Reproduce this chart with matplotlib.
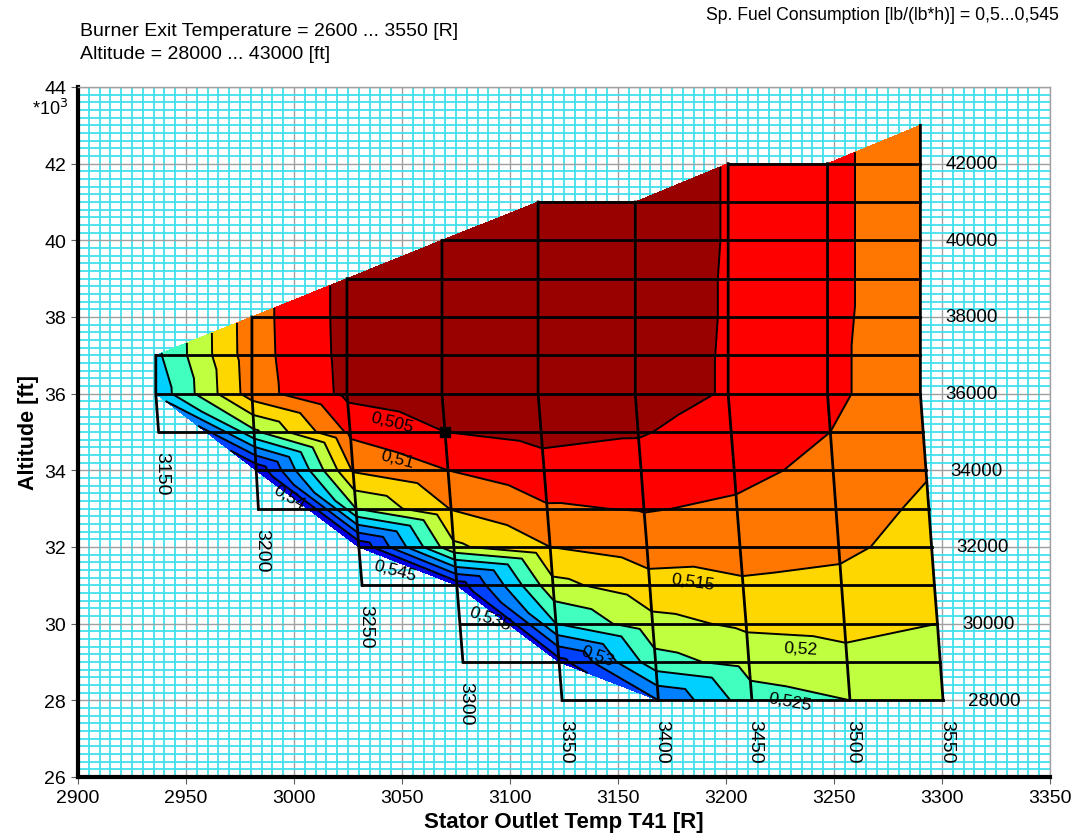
import numpy as np
import matplotlib
matplotlib.use('Agg')
import matplotlib.pyplot as plt
import matplotlib.tri as mtri
from matplotlib.ticker import MultipleLocator

plt.rcParams['font.family'] = ['Liberation Sans Narrow', 'Liberation Sans', 'DejaVu Sans']

nan = np.nan

# burner exit temperature lines [R] and altitudes [1000 ft]
t4_lines = [3150, 3200, 3250, 3300, 3350, 3400, 3450, 3500, 3550]
altitudes = list(range(28, 44))

# stator outlet temperature T41 [R] per line, altitude 28 ... 43
t41 = [
    [nan, nan, nan, nan, nan, nan, nan, 2937.3, 2936.0, 2936.0, nan, nan, nan, nan, nan, nan],
    [nan, nan, nan, nan, nan, 2983.5, 2982.5, 2981.5, 2980.5, 2980.5, 2980.5, nan, nan, nan, nan, nan],
    [nan, nan, nan, 3031.5, 3030.0, 3028.7, 3027.3, 3026.0, 3024.5, 3024.5, 3024.5, 3024.5, nan, nan, nan, nan],
    [nan, 3078.2, 3076.8, 3075.4, 3074.0, 3072.7, 3071.3, 3069.9, 3068.5, 3068.5, 3068.5, 3068.5, 3068.5, nan, nan, nan],
    [3124.1, 3122.7, 3121.3, 3119.9, 3118.6, 3117.2, 3115.8, 3114.4, 3113.0, 3113.0, 3113.0, 3113.0, 3113.0, 3113.0, nan, nan],
    [3168.7, 3167.4, 3166.0, 3164.7, 3163.4, 3162.0, 3160.7, 3159.3, 3158.0, 3158.0, 3158.0, 3158.0, 3158.0, 3158.0, nan, nan],
    [3212.0, 3210.6, 3209.3, 3207.9, 3206.5, 3205.1, 3203.8, 3202.4, 3201.0, 3201.0, 3201.0, 3201.0, 3201.0, 3201.0, 3201.0, nan],
    [3257.4, 3256.1, 3254.8, 3253.5, 3252.2, 3250.9, 3249.6, 3248.3, 3247.0, 3247.0, 3247.0, 3247.0, 3247.0, 3247.0, 3247.0, nan],
    [3300.5, 3299.2, 3297.9, 3296.5, 3295.2, 3293.9, 3292.6, 3291.3, 3290.0, 3290.0, 3290.0, 3290.0, 3290.0, 3290.0, 3290.0, 3290.0],
]

# specific fuel consumption [lb/(lb*h)] per line, altitude 28 ... 43
sfc = [
    [nan, nan, nan, nan, nan, nan, nan, nan, 0.5335, 0.5312, nan, nan, nan, nan, nan, nan],
    [nan, nan, nan, nan, nan, nan, 0.5490, 0.5260, 0.5125, 0.5121, 0.5120, nan, nan, nan, nan, nan],
    [nan, nan, nan, nan, 0.5490, 0.5250, 0.5145, 0.5090, 0.5038, 0.5036, 0.5035, 0.5035, nan, nan, nan, nan],
    [nan, nan, nan, 0.5480, 0.5210, 0.5148, 0.5100, 0.5050, 0.5015, 0.5012, 0.5011, 0.5010, 0.5010, nan, nan, nan],
    [nan, 0.5470, 0.5300, 0.5215, 0.5150, 0.5105, 0.5070, 0.5035, 0.5005, 0.5004, 0.5003, 0.5003, 0.5002, 0.5002, nan, nan],
    [0.5400, 0.5269, 0.5215, 0.5168, 0.5126, 0.5097, 0.5071, 0.5046, 0.5020, 0.5019, 0.5018, 0.5018, 0.5017, 0.5017, nan, nan],
    [0.5270, 0.5231, 0.5191, 0.5156, 0.5131, 0.5107, 0.5088, 0.5071, 0.5055, 0.5055, 0.5054, 0.5054, 0.5053, 0.5053, 0.5053, nan],
    [0.5250, 0.5215, 0.5185, 0.5165, 0.5138, 0.5125, 0.5112, 0.5100, 0.5093, 0.5093, 0.5092, 0.5092, 0.5092, 0.5092, 0.5092, nan],
    [0.5227, 0.5213, 0.5200, 0.5187, 0.5173, 0.5160, 0.5146, 0.5133, 0.5120, 0.5120, 0.5120, 0.5119, 0.5119, 0.5119, 0.5119, 0.5119],
]

sfc_levels = [0.505, 0.51, 0.515, 0.52, 0.525, 0.53, 0.535, 0.54, 0.545]
band_colors = ['#990000', '#FF0000', '#FF7700', '#FFD700', '#BFFF40',
               '#40FFBF', '#00D0FF', '#0080FF', '#0040FF', '#0000E0']
level_labels = ['0,505', '0,51', '0,515', '0,52', '0,525', '0,53', '0,535', '0,54', '0,545']
# label anchor (T41, altitude, rotation)
label_pos = [(3045.4, 35.25, -14), (3047.7, 34.31, -14), (3184.7, 31.1, -8), (3234.3, 29.36, -3),
             (3229.6, 27.97, -10), (3140.3, 29.17, -20), (3090.7, 30.14, -20), (2998.0, 33.3, -30),
             (3046.8, 31.39, -15)]

design_line, design_alt = 3300, 35

# ---- triangulate the valid sfc points, strip by strip between neighbouring lines
xs, ys, zs = [], [], []
cols = []
for i in range(len(t4_lines)):
    col = []
    for j, a in enumerate(altitudes):
        if not np.isnan(sfc[i][j]):
            col.append((len(xs), a))
            xs.append(t41[i][j]); ys.append(a); zs.append(sfc[i][j])
    cols.append(col)

triangles = []
for A, B in zip(cols[:-1], cols[1:]):
    a = b = 0
    while a < len(A) - 1 or b < len(B) - 1:
        if a == len(A) - 1:
            step_b = True
        elif b == len(B) - 1:
            step_b = False
        else:
            step_b = B[b + 1][1] <= A[a + 1][1]
        if step_b:
            triangles.append([A[a][0], B[b][0], B[b + 1][0]])
            b += 1
        else:
            triangles.append([A[a][0], A[a + 1][0], B[b][0]])
            a += 1

tri = mtri.Triangulation(np.array(xs), np.array(ys), np.array(triangles))
z = np.array(zs)

fig = plt.figure(figsize=(10.78, 8.37), dpi=100)
ax = fig.add_axes([0.0724, 0.0705, 0.9016, 0.8244])

ax.tricontourf(tri, z, levels=[0.48] + sfc_levels + [0.58], colors=band_colors, zorder=2)
ax.tricontour(tri, z, levels=sfc_levels, colors='k', linewidths=1.4, zorder=3)

# carpet grid
t41_arr = np.array(t41)
for i in range(len(t4_lines)):
    ok = ~np.isnan(t41_arr[i])
    ax.plot(t41_arr[i][ok], np.array(altitudes)[ok], color='k', lw=2, zorder=4)
for j, a in enumerate(altitudes):
    ok = ~np.isnan(t41_arr[:, j])
    if ok.sum() > 1:
        ax.plot(t41_arr[:, j][ok], [a] * ok.sum(), color='k', lw=2, zorder=4)

ax.plot(t41_arr[t4_lines.index(design_line), altitudes.index(design_alt)], design_alt,
        's', color='k', ms=7, zorder=5)

for txt, (lx, ly, rot) in zip(level_labels, label_pos):
    ax.text(lx, ly, txt, fontsize=12.5, rotation=rot, ha='center', va='center', zorder=6)

# line labels
for i, v in enumerate(t4_lines):
    ok = np.where(~np.isnan(t41_arr[i]))[0]
    j0 = ok[0]
    ax.text(t41_arr[i][j0] + 1.5, altitudes[j0] - 0.5, str(v), rotation=270, fontsize=14,
            ha='center', va='top', zorder=6)
for j, a in enumerate(altitudes):
    if a % 2 == 0 and a <= 42:
        ok = np.where(~np.isnan(t41_arr[:, j]))[0]
        ax.text(t41_arr[ok[-1], j] + 11.5, a, str(a * 1000), fontsize=13.5, ha='left', va='center', zorder=6)

ax.set_xlim(2900, 3350)
ax.set_ylim(26, 44)
ax.xaxis.set_major_locator(MultipleLocator(50))
ax.yaxis.set_major_locator(MultipleLocator(2))
ax.xaxis.set_minor_locator(MultipleLocator(5))
ax.yaxis.set_minor_locator(MultipleLocator(0.2))
ax.grid(which='minor', color='#40E0EE', lw=1.3, zorder=0)
ax.grid(which='major', color='#A0A0A0', lw=1.0, zorder=1)
ax.set_axisbelow(True)
ax.tick_params(which='minor', length=0)
ax.tick_params(which='major', direction='out', length=5, labelsize=14, color='#606060')
for s in ['left', 'bottom']:
    ax.spines[s].set_linewidth(3)
    ax.spines[s].set_color('k')
for s in ['top', 'right']:
    ax.spines[s].set_linewidth(1)
    ax.spines[s].set_color('#A0A0A0')

ax.set_xlabel('Stator Outlet Temp T41 [R]', fontsize=16, fontweight='bold', labelpad=4)
ax.set_ylabel('Altitude [ft]', fontsize=15.5, fontweight='bold', labelpad=4)
fig.text(0.030, 0.870, '*10$^3$', fontsize=13, va='center')

fig.text(0.074, 0.962, 'Burner Exit Temperature = 2600 ... 3550 [R]', fontsize=14, va='center')
fig.text(0.074, 0.935, 'Altitude = 28000 ... 43000 [ft]', fontsize=14, va='center')
fig.text(0.982, 0.982, 'Sp. Fuel Consumption [lb/(lb*h)] = 0,5...0,545', fontsize=12.7,
         ha='right', va='center')

fig.savefig('out.png', dpi=100)
